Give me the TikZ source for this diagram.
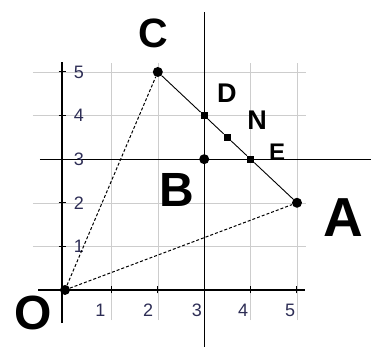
\documentclass[tikz,border=0pt]{standalone}
\usepackage{fontspec}
\setmainfont{Liberation Sans}
\definecolor{gridgray}{RGB}{205,205,205}
\definecolor{numblue}{RGB}{45,45,85}
\begin{document}
\begin{tikzpicture}[x=46.4pt,y=43.6pt,
        dot/.style={circle, fill=black, inner sep=0pt, minimum size=10pt},
        sqdot/.style={rectangle, fill=black, inner sep=0pt, minimum size=7pt},
        bigletter/.style={font=\bfseries\fontsize{#1}{#1}\selectfont, inner sep=0pt},
        num/.style={font=\fontsize{18}{18}\selectfont, text=numblue, inner sep=0pt}]
        \useasboundingbox (-1.401,-1.307) rectangle (6.595,6.651);

        % grid
        \draw[gridgray] (-0.69,1) -- (5.2,1);
        \draw[gridgray] (-0.69,2) -- (5.2,2);
        \draw[gridgray] (-0.69,4) -- (5.2,4);
        \draw[gridgray] (-0.69,5) -- (5.2,5);
        \draw[gridgray] (1,-0.69) -- (1,5.2);
        \draw[gridgray] (2,-0.69) -- (2,5.2);
        \draw[gridgray] (4,-0.69) -- (4,5.2);
        \draw[gridgray] (5,-0.69) -- (5,5.2);

        % axes
        \draw[line width=1.5pt] (-0.58,0) -- (5.17,0);
        \draw[line width=1.5pt] (-0.06,-0.76) -- (-0.06,5.23);
        \draw[line width=1.3pt] (-0.54,3) -- (6.6,3);
        \draw[line width=1.3pt] (3,-1.31) -- (3,6.38);

        % ticks
        \draw[line width=1pt] (1,-0.08) -- (1,0.08);
        \draw[line width=1pt] (2,-0.08) -- (2,0.08);
        \draw[line width=1pt] (4,-0.08) -- (4,0.08);
        \draw[line width=1pt] (5,-0.08) -- (5,0.08);
        \draw[line width=1pt] (-0.14,1) -- (0.02,1);
        \draw[line width=1pt] (-0.14,2) -- (0.02,2);
        \draw[line width=1pt] (-0.14,4) -- (0.02,4);
        \draw[line width=1pt] (-0.14,5) -- (0.02,5);

        \node[num] (x1) at (0.76,-0.46) {1};
        \node[num] (x2) at (1.79,-0.46) {2};
        \node[num] (x3) at (2.84,-0.46) {3};
        \node[num] (x4) at (3.84,-0.46) {4};
        \node[num] (x5) at (4.85,-0.46) {5};
        \node[num] (y1) at (0.3,1) {1};
        \node[num] (y2) at (0.3,1.98) {2};
        \node[num] (y3) at (0.3,3) {3};
        \node[num] (y4) at (0.3,4) {4};
        \node[num] (y5) at (0.3,5) {5};

        % points
        \node[dot] (O) at (0,0) {};
        \node[dot] (A) at (5,2) {};
        \node[dot] (C) at (2,5) {};
        \node[dot] (B) at (3,3) {};
        \node[sqdot] (D) at (3,4) {};
        \node[sqdot] (N) at (3.5,3.5) {};
        \node[sqdot] (E) at (4,3) {};

        % triangle
        \draw[densely dashed, line width=1pt] (O) -- (C);
        \draw[densely dashed, line width=1pt] (O) -- (A);
        \draw[line width=0.9pt] (C) -- (D) -- (N) -- (E) -- (A);

        % labels
        \node[bigletter=41] (labC) at (1.90,5.89) {C};
        \node[bigletter=27] (labD) at (3.49,4.52) {D};
        \node[bigletter=27] (labN) at (4.14,3.90) {N};
        \node[bigletter=24] (labE) at (4.57,3.17) {E};
        \node[bigletter=48] (labB) at (2.41,2.29) {B};
        \node[bigletter=55] (labA) at (5.99,1.67) {A};
        \node[bigletter=48] (labO) at (-0.69,-0.53) {O};
    \end{tikzpicture}
\end{document}
